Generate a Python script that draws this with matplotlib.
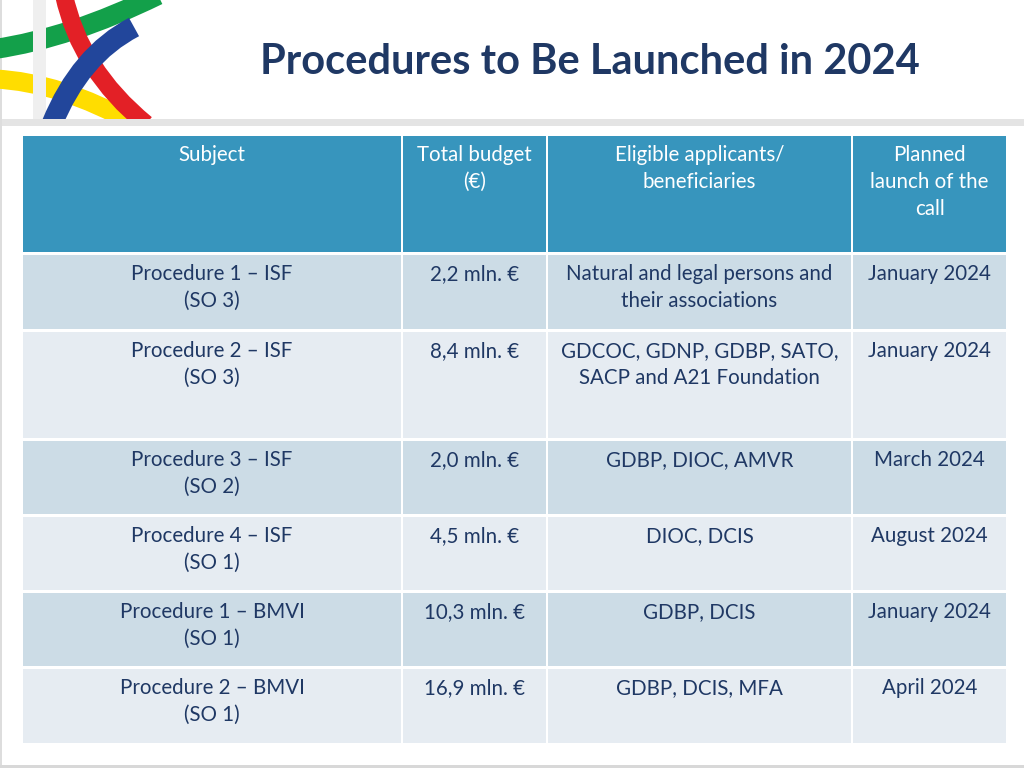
import matplotlib
matplotlib.use("Agg")
import matplotlib.pyplot as plt
from matplotlib.patches import Rectangle, PathPatch
from matplotlib.path import Path

# ---- data ----
title = "Procedures to Be Launched in 2024"
headers = ["Subject", "Total budget\n(€)", "Eligible applicants/\nbeneficiaries", "Planned\nlaunch of the\ncall"]
subjects = ["Procedure 1 – ISF\n(SO 3)", "Procedure 2 – ISF\n(SO 3)", "Procedure 3 – ISF\n(SO 2)",
            "Procedure 4 – ISF\n(SO 1)", "Procedure 1 – BMVI\n(SO 1)", "Procedure 2 – BMVI\n(SO 1)"]
budgets = ["2,2 mln. €", "8,4 mln. €", "2,0 mln. €", "4,5 mln. €", "10,3 mln. €", "16,9 mln. €"]
applicants = ["Natural and legal persons and\ntheir associations",
              "GDCOC, GDNP, GDBP, SATO,\nSACP and A21 Foundation",
              "GDBP, DIOC, AMVR", "DIOC, DCIS", "GDBP, DCIS", "GDBP, DCIS, MFA"]
launch = ["January 2024", "January 2024", "March 2024", "August 2024", "January 2024", "April 2024"]

# ---- layout (pixel space) ----
col_edges = [(23, 401), (403, 546), (548, 851), (853, 1006)]
row_edges = [(136, 252), (255, 329), (332, 438), (441, 514), (517, 590), (593, 666), (669, 743)]
HEADER_C = "#3795BD"
ODD_C = "#CCDCE6"
EVEN_C = "#E6ECF2"
TEXT_C = "#1F3864"
FONT = ["Lato", "DejaVu Sans"]
FS = 14.8
LINE = 27

fig = plt.figure(figsize=(10.24, 7.68), dpi=100)
ax = fig.add_axes([0, 0, 1, 1])
ax.set_xlim(0, 1024)
ax.set_ylim(768, 0)
ax.axis("off")

# slide decorations
ax.add_patch(Rectangle((0, 119), 1024, 7, color="#E4E4E4", lw=0))
ax.add_patch(Rectangle((0, 0), 2, 768, color="#DDDDDD", lw=0))
ax.add_patch(Rectangle((0, 765), 1024, 3, color="#D8D8D8", lw=0))

clip = Rectangle((0, 0), 1024, 119, transform=ax.transData)

def band(p0, p1, p2, color, lw, z=2):
    path = Path([p0, p1, p2], [Path.MOVETO, Path.CURVE3, Path.CURVE3])
    pp = PathPatch(path, fill=False, edgecolor=color, lw=lw, capstyle="butt", zorder=z)
    ax.add_patch(pp)
    pp.set_clip_path(clip)

s = 0.72  # px -> pt
band((-5, 49), (70, 38), (158, -5), "#13A04A", 20 * s)
band((-5, 79), (60, 82), (135, 124), "#FFDD00", 19 * s)
ax.add_patch(Rectangle((33, 0), 13, 119, color="#EFEFEF", lw=0, zorder=3))
band((64, -5), (80, 70), (146, 124), "#E32026", 18 * s, 4)
band((52, 124), (80, 55), (134, 27), "#22469B", 21 * s, 5)

# title
ax.text(590, 62, title, ha="center", va="center", fontsize=30, fontweight="bold",
        color=TEXT_C, family=FONT)

# table
rows = [headers] + [list(r) for r in zip(subjects, budgets, applicants, launch)]
for ri, ((y0, y1), row) in enumerate(zip(row_edges, rows)):
    if ri == 0:
        fc, tc = HEADER_C, "white"
    else:
        fc, tc = (ODD_C if ri % 2 == 1 else EVEN_C), TEXT_C
    for (x0, x1), txt in zip(col_edges, row):
        ax.add_patch(Rectangle((x0, y0), x1 - x0, y1 - y0, facecolor=fc, lw=0))
        for li, line in enumerate(txt.split("\n")):
            ax.text((x0 + x1) / 2, y0 + 25 + li * LINE, line, ha="center", va="baseline",
                    fontsize=FS, color=tc, family=FONT)

fig.savefig("out.png", dpi=100)
